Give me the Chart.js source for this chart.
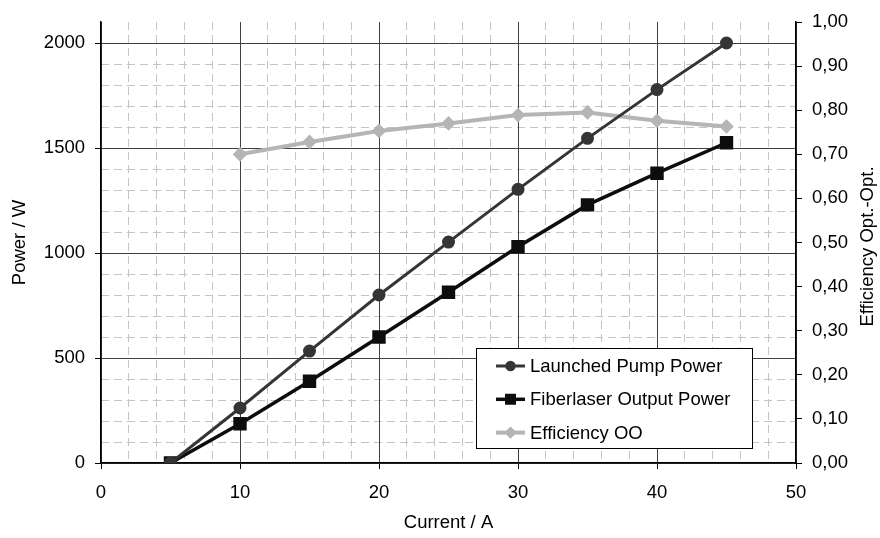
<!DOCTYPE html>
<html><head><meta charset="utf-8">
<script src="https://cdn.jsdelivr.net/npm/chart.js@4.4.1/dist/chart.umd.min.js"></script>
<style>html,body{margin:0;padding:0;background:#fff}#wrap{width:880px;height:538px}</style>
</head><body><div id="wrap"><canvas id="c" width="880" height="538"></canvas></div>
<script>
// ---- data ----
const currents = [5, 10, 15, 20, 25, 30, 35, 40, 45];
const launchedPump = [0, 262, 533, 800, 1052, 1303, 1546, 1778, 2000];
const fiberOutput = [0, 187, 389, 600, 813, 1030, 1229, 1380, 1525];
const efficiencyOO = [null, 0.700, 0.728, 0.753, 0.770, 0.789, 0.795, 0.776, 0.763];
const seriesNames = ['Launched Pump Power', 'Fiberlaser Output Power', 'Efficiency OO'];
const currentTicks = [0, 10, 20, 30, 40, 50];
const powerTicks = [0, 500, 1000, 1500, 2000];
const efficiencyTicks = [0, 0.1, 0.2, 0.3, 0.4, 0.5, 0.6, 0.7, 0.8, 0.9, 1.0];
const axisTitles = { x: 'Current / A', y: 'Power / W', y2: 'Efficiency Opt.-Opt.' };

const FONT = '"Liberation Sans", Arial, sans-serif';
const FS = 18.5;

const pts = (ys) => currents.map((x, i) => ({ x: x, y: ys[i] }));

const insideLegend = {
  id: 'insideLegend',
  afterDraw(chart, args, o) {
    const ctx = chart.ctx;
    ctx.save();
    ctx.fillStyle = '#fff';
    ctx.fillRect(o.x, o.y, o.w, o.h);
    ctx.strokeStyle = '#000';
    ctx.lineWidth = 1;
    ctx.setLineDash([]);
    ctx.strokeRect(o.x + 0.5, o.y + 0.5, o.w, o.h);
    chart.data.datasets.forEach((ds, i) => {
      const cy = o.y + o.firstRow + i * o.rowGap;
      const x0 = o.x + o.lineStart;
      ctx.strokeStyle = ds.borderColor;
      ctx.lineWidth = ds.borderWidth;
      ctx.beginPath();
      ctx.moveTo(x0, cy);
      ctx.lineTo(x0 + o.lineLen, cy);
      ctx.stroke();
      ctx.fillStyle = ds.pointBackgroundColor;
      ctx.strokeStyle = ds.pointBorderColor;
      Chart.helpers.drawPoint(ctx, { pointStyle: ds.pointStyle, radius: ds.pointRadius * 0.75, borderWidth: 1, rotation: 0 }, x0 + o.lineLen / 2, cy);
      ctx.fillStyle = '#000';
      ctx.font = o.font;
      ctx.textBaseline = 'middle';
      ctx.textAlign = 'left';
      ctx.fillText(ds.label, x0 + o.lineLen + o.textGap, cy + 1);
    });
    ctx.restore();
  }
};

// right-hand axis title, reading bottom-to-top like the left one
const rightTitle = {
  id: 'rightTitle',
  afterDraw(chart, args, o) {
    const s = chart.scales.y2;
    const ctx = chart.ctx;
    ctx.save();
    ctx.translate(s.right - o.offset, (chart.chartArea.top + chart.chartArea.bottom) / 2 + o.shift);
    ctx.rotate(-Math.PI / 2);
    ctx.fillStyle = '#000';
    ctx.font = o.font;
    ctx.textAlign = 'center';
    ctx.textBaseline = 'middle';
    ctx.fillText(o.text, 0, 0);
    ctx.restore();
  }
};

new Chart(document.getElementById('c'), {
  type: 'line',
  data: {
    datasets: [
      { label: seriesNames[0], data: pts(launchedPump), borderColor: '#353535', borderWidth: 3,
        pointStyle: 'circle', pointRadius: 5, pointBackgroundColor: '#353535', pointBorderColor: '#353535',
        xAxisID: 'x', yAxisID: 'y', tension: 0 },
      { label: seriesNames[1], data: pts(fiberOutput), borderColor: '#0d0d0d', borderWidth: 3.5,
        pointStyle: 'rect', pointRadius: 7, pointBackgroundColor: '#0d0d0d', pointBorderColor: '#0d0d0d',
        xAxisID: 'x', yAxisID: 'y', tension: 0 },
      { label: seriesNames[2], data: pts(efficiencyOO), borderColor: '#b5b5b5', borderWidth: 4,
        pointStyle: 'rectRot', pointRadius: 4.5, pointBackgroundColor: '#b5b5b5', pointBorderColor: '#b5b5b5',
        xAxisID: 'x', yAxisID: 'y2', tension: 0 }
    ]
  },
  options: {
    responsive: false,
    animation: false,
    events: [],
    layout: { padding: { top: 22, left: 0, right: 0, bottom: 0 } },
    plugins: {
      legend: { display: false },
      tooltip: { enabled: false },
      insideLegend: { x: 476, y: 348, w: 276, h: 100, firstRow: 18, rowGap: 33.3, lineStart: 20, lineLen: 29, textGap: 5,
        font: FS + 'px ' + FONT },
      rightTitle: { text: axisTitles.y2, font: FS + 'px ' + FONT, offset: 12, shift: 4 }
    },
    scales: {
      xMinor: {
        type: 'linear', position: 'bottom', min: 0, max: 50,
        ticks: { display: false, stepSize: 2 },
        grid: { color: '#c4c4c4', lineWidth: 1, drawTicks: false },
        border: { display: false, dash: [8, 5] },
        afterFit: (s) => { s.height = 0; }
      },
      yMinor: {
        type: 'linear', position: 'left', min: 0, max: 2100,
        ticks: { display: false, stepSize: 100 },
        afterBuildTicks: (s) => { s.ticks = s.ticks.filter(t => t.value <= 2000); },
        grid: { color: '#c4c4c4', lineWidth: 1, drawTicks: false },
        border: { display: false, dash: [8, 5] },
        afterFit: (s) => { s.width = 0; }
      },
      x: {
        type: 'linear', position: 'bottom', min: 0, max: 50,
        afterBuildTicks: (s) => { s.ticks = currentTicks.map(v => ({ value: v })); },
        ticks: { color: '#000', font: { family: FONT, size: FS }, padding: 13, maxRotation: 0 },
        grid: { color: '#404040', lineWidth: 1, tickLength: 6, tickColor: '#000' },
        border: { color: '#000', width: 1.5 },
        title: { display: true, text: axisTitles.x, color: '#000', font: { family: FONT, size: FS }, padding: { top: 0, bottom: 4 } },
        afterFit: (s) => { s.height = 75; }
      },
      y: {
        type: 'linear', position: 'left', min: 0, max: 2100,
        afterBuildTicks: (s) => { s.ticks = powerTicks.map(v => ({ value: v })); },
        ticks: { color: '#000', font: { family: FONT, size: FS }, padding: 10, callback: (v) => String(v) },
        grid: { color: '#404040', lineWidth: 1, tickLength: 6, tickColor: '#000' },
        border: { color: '#000', width: 1.5 },
        title: { display: true, text: axisTitles.y, color: '#000', font: { family: FONT, size: FS }, padding: { top: 9, bottom: 0 } },
        afterFit: (s) => { s.width = 101; }
      },
      y2: {
        type: 'linear', position: 'right', min: 0, max: 1,
        afterBuildTicks: (s) => { s.ticks = efficiencyTicks.map(v => ({ value: v })); },
        ticks: { color: '#000', font: { family: FONT, size: FS }, padding: 10,
          callback: (v) => v.toFixed(2).replace('.', ',') },
        grid: { drawOnChartArea: false, tickLength: 6, tickColor: '#000' },
        border: { color: '#000', width: 1.5 },
        title: { display: false },
        afterFit: (s) => { s.width = 84; }
      }
    }
  },
  plugins: [insideLegend, rightTitle]
});
</script></body></html>
